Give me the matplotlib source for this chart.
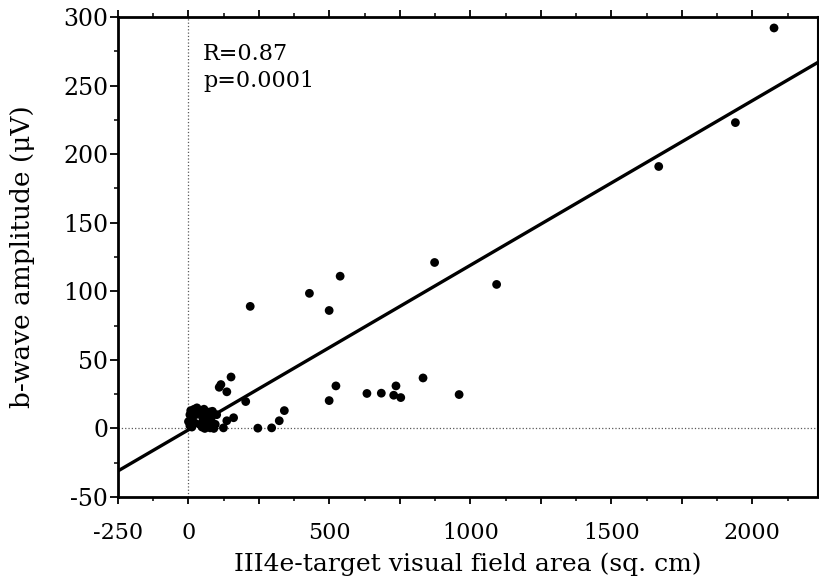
import matplotlib
matplotlib.use("Agg")
import matplotlib.pyplot as plt
from matplotlib.ticker import MultipleLocator
import numpy as np

plt.rcParams['font.family'] = ['DejaVu Serif']
plt.rcParams['axes.unicode_minus'] = False

# visual field area (sq. cm) and b-wave amplitude (uV)
area = [2077, 1940, 1668, 1093, 873, 538, 429, 499, 219,
        151, 115, 109, 136, 203, 499, 523, 633, 684, 736, 728, 753, 832, 960,
        340, 322, 295, 246, 160, 136, 124, 85, 77,
        5, 10, 15, 20, 25, 35, 40, 45, 50, 55, 60, 65, 70, 75, 80, 90,
        100, 0, 5, 12, 22, 48, 58, 30, 8, 95]
amp = [292, 223, 191, 105, 121, 111, 98.5, 86, 89,
       37.5, 32, 30, 26.7, 19.6, 20.3, 31, 25.5, 25.7, 31, 24.2, 22.5, 36.8, 24.7,
       13, 5.6, 0.4, 0.2, 7.8, 5.6, 0.4, 12.5, 0.4,
       2, 8, 12, 14, 10, 13, 3, 11, 8, 14, 5, 10, 2, 12, 7, 0,
       10, 5, 10, 1, 4, 1, 0, 15, 13, 3]

# regression line
fit_slope = 0.12
fit_icept = -1.0
stats_text = "R=0.87\np=0.0001"

x_labels = ['-250', '0', '', '500', '', '1000', '', '1500', '', '2000']

fig = plt.figure(figsize=(8.2, 5.84), dpi=100)
ax = fig.add_axes([118/820, 1 - 497/584, 700/820, 480/584])

xmin, xmax = -250, 2233
ax.axhline(0, color='0.35', lw=0.9, ls=':', zorder=1)
ax.axvline(0, color='0.35', lw=0.9, ls=':', zorder=1)

xs = np.array([xmin, xmax])
ax.plot(xs, fit_icept + fit_slope * xs, color='black', lw=2.4, zorder=2)
ax.scatter(area, amp, s=40, color='black', edgecolors='none', zorder=3)

ax.set_xlim(xmin, xmax)
ax.set_ylim(-50, 300)

ax.set_xticks(np.arange(-250, 2001, 250))
ax.set_xticklabels(x_labels)
ax.xaxis.set_minor_locator(MultipleLocator(125))
ax.yaxis.set_major_locator(MultipleLocator(50))
ax.yaxis.set_minor_locator(MultipleLocator(25))

ax.tick_params(axis='x', which='both', direction='out', top=True, bottom=True,
               labelsize=16, pad=13)
ax.tick_params(axis='x', which='major', length=5, width=1.3)
ax.tick_params(axis='x', which='minor', length=3, width=1.1)
ax.tick_params(axis='y', which='both', direction='out', left=True, right=False,
               labelsize=17, pad=1)
ax.tick_params(axis='y', which='major', length=6, width=1.3)
ax.tick_params(axis='y', which='minor', length=3, width=1.1)

for side in ['left', 'bottom', 'top']:
    ax.spines[side].set_linewidth(2)
ax.spines['right'].set_linewidth(1.5)

ax.text(52, 281, stats_text, fontsize=16, va='top', ha='left', linespacing=1.3)

ax.set_xlabel('III4e-target visual field area (sq. cm)', fontsize=18, labelpad=6)
ax.set_ylabel('b-wave amplitude (\u03bcV)', fontsize=19, labelpad=20)

fig.savefig('out.png', dpi=100)
